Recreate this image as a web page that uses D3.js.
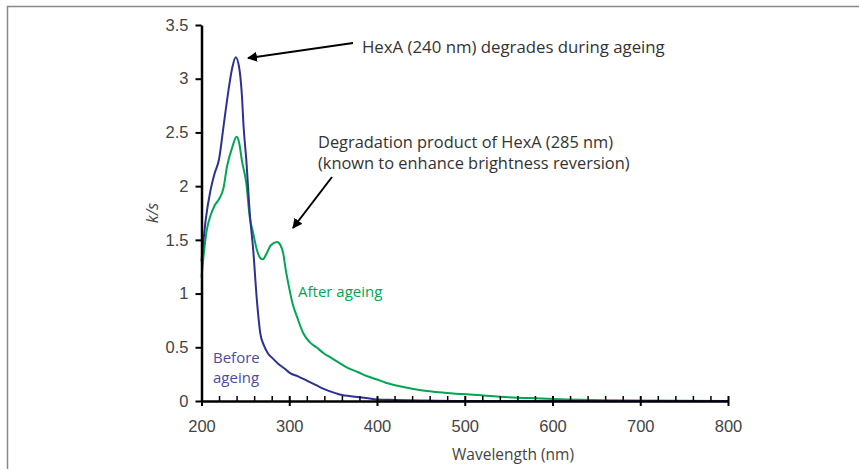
<!DOCTYPE html>
<html>
<head>
<meta charset="utf-8">
<script src="https://cdn.jsdelivr.net/npm/d3@7"></script>
<style>
  body { margin: 0; background: #fff; }
  svg { display: block; font-family: "Open Sans", sans-serif; }
  .axis text { fill: #444; font-size: 16.5px; }
  .axis path, .axis line { stroke: #000; }
</style>
</head>
<body>
<svg id="chart" width="859" height="469"></svg>
<script>
// wavelength (nm) and k/s
const beforeWl = [200, 205, 210, 215, 220, 225, 230, 235, 239, 243, 246, 248, 251, 255, 259, 263, 267, 271, 276, 282, 287, 295, 301, 310, 320, 330, 340, 350, 360, 370, 380, 390, 400, 420, 450, 500, 800];
const beforeKs = [1.30, 1.70, 1.95, 2.12, 2.25, 2.55, 2.85, 3.10, 3.20, 3.10, 2.85, 2.55, 2.25, 1.75, 1.40, 0.95, 0.63, 0.52, 0.44, 0.39, 0.35, 0.30, 0.26, 0.23, 0.19, 0.15, 0.11, 0.08, 0.055, 0.045, 0.035, 0.025, 0.015, 0.01, 0.005, 0.0, 0.0];

const afterWl = [200, 203, 206, 210, 215, 220, 225, 229, 235, 240, 243, 246, 251, 255, 259, 263, 267, 270, 274, 279, 286, 290, 293, 296, 300, 304, 309, 316, 323, 331, 340, 346, 356, 366, 378, 389, 400, 410, 430, 450, 480, 515, 540, 580, 616, 660, 700, 800];
const afterKs = [1.15, 1.40, 1.59, 1.72, 1.82, 1.88, 1.98, 2.18, 2.36, 2.46, 2.40, 2.24, 2.03, 1.71, 1.56, 1.41, 1.33, 1.32, 1.37, 1.45, 1.48, 1.45, 1.38, 1.22, 1.05, 0.90, 0.78, 0.63, 0.55, 0.50, 0.44, 0.41, 0.36, 0.31, 0.27, 0.23, 0.20, 0.17, 0.13, 0.10, 0.075, 0.055, 0.04, 0.025, 0.015, 0.008, 0.004, 0.0];

const xMajor = [200, 300, 400, 500, 600, 700, 800];
const xMinor = d3.range(220, 800, 20).filter(d => d % 100 !== 0);
const yTicks = [0, 0.5, 1, 1.5, 2, 2.5, 3, 3.5];

const svg = d3.select("#chart");

// outer frame
svg.append("rect")
  .attr("x", 7.5).attr("y", 6.5)
  .attr("width", 1000).attr("height", 1000)
  .attr("fill", "none").attr("stroke", "#888").attr("stroke-width", 1.5);

const x = d3.scaleLinear().domain([200, 800]).range([201.5, 728]);
const y = d3.scaleLinear().domain([0, 3.5]).range([401, 25]);

const line = d3.line()
  .x(d => x(d[0]))
  .y(d => y(d[1]))
  .curve(d3.curveMonotoneX);

svg.append("path")
  .datum(d3.zip(afterWl, afterKs))
  .attr("fill", "none").attr("stroke", "#00a651").attr("stroke-width", 2)
  .attr("d", line);

svg.append("path")
  .datum(d3.zip(beforeWl, beforeKs))
  .attr("fill", "none").attr("stroke", "#2e3192").attr("stroke-width", 2)
  .attr("d", line);

// x axis: major ticks crossing the line, minor ticks above it
const xAxis = svg.append("g")
  .attr("class", "axis")
  .attr("transform", `translate(0,${y(0)})`)
  .call(d3.axisBottom(x).tickValues(xMajor).tickSize(5).tickSizeOuter(0).tickPadding(14));
xAxis.selectAll(".tick line").attr("y1", -5).attr("stroke-width", 2);
xAxis.selectAll(".tick text").attr("font-size", 17);
xAxis.select(".domain").attr("stroke-width", 2.5);

svg.append("g")
  .attr("class", "axis")
  .attr("transform", `translate(0,${y(0)})`)
  .call(d3.axisTop(x).tickValues(xMinor).tickSize(5).tickFormat(""))
  .call(g => g.select(".domain").remove())
  .selectAll(".tick line").attr("stroke-width", 1.5);

const yAxis = svg.append("g")
  .attr("class", "axis")
  .attr("transform", `translate(${x(200)},0)`)
  .call(d3.axisLeft(y).tickValues(yTicks).tickSize(6).tickSizeOuter(0).tickPadding(7).tickFormat(d => String(d)));
yAxis.selectAll(".tick line").attr("stroke-width", 2);
yAxis.select(".domain").attr("stroke-width", 2.5);

// axis titles
svg.append("text")
  .attr("x", 513).attr("y", 460)
  .attr("text-anchor", "middle")
  .attr("fill", "#444").attr("font-size", 15.5)
  .text("Wavelength (nm)");

svg.append("text")
  .attr("transform", "translate(158,213) rotate(-90)")
  .attr("text-anchor", "middle")
  .attr("fill", "#444").attr("font-size", 16).attr("font-style", "italic")
  .text("k/s");

// series labels
svg.append("text")
  .attr("x", 298).attr("y", 297)
  .attr("fill", "#00a651").attr("font-size", 15)
  .text("After ageing");

const before = svg.append("text")
  .attr("fill", "#4b4ba6").attr("font-size", 15);
before.append("tspan").attr("x", 213).attr("y", 363).text("Before");
before.append("tspan").attr("x", 213).attr("y", 383).text("ageing");

// annotations
svg.append("defs").append("marker")
  .attr("id", "head")
  .attr("viewBox", "0 0 10 10")
  .attr("refX", 9).attr("refY", 5)
  .attr("markerWidth", 5).attr("markerHeight", 5)
  .attr("markerUnits", "strokeWidth")
  .attr("orient", "auto")
  .append("path").attr("d", "M0,0L10,5L0,10z").attr("fill", "#000");

svg.append("line")
  .attr("x1", 353).attr("y1", 43).attr("x2", 248).attr("y2", 58)
  .attr("stroke", "#000").attr("stroke-width", 2).attr("marker-end", "url(#head)");

svg.append("line")
  .attr("x1", 332).attr("y1", 177).attr("x2", 293).attr("y2", 228)
  .attr("stroke", "#000").attr("stroke-width", 2).attr("marker-end", "url(#head)");

svg.append("text")
  .attr("x", 362).attr("y", 53)
  .attr("fill", "#333").attr("font-size", 16.8)
  .text("HexA (240 nm) degrades during ageing");

const note = svg.append("text")
  .attr("fill", "#333").attr("font-size", 16.4);
note.append("tspan").attr("x", 318).attr("y", 148).text("Degradation product of HexA (285 nm)");
note.append("tspan").attr("x", 318).attr("y", 169).text("(known to enhance brightness reversion)");
</script>
</body>
</html>
